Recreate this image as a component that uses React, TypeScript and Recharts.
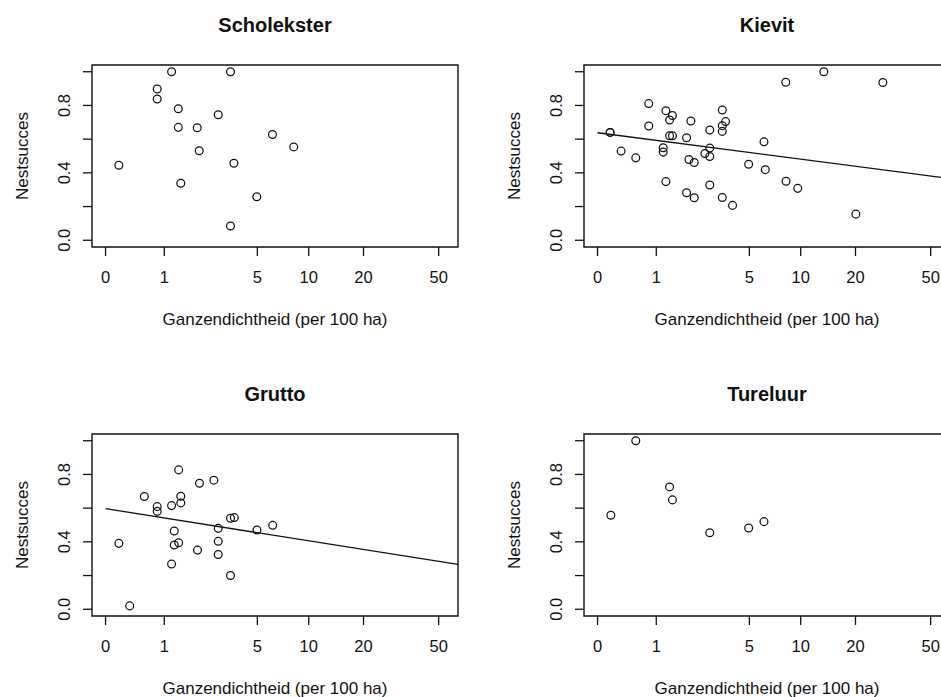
import React from 'react';
import { ScatterChart, Scatter, XAxis, YAxis, ReferenceArea } from 'recharts';

// Tick values (original units for x: goose density per 100 ha)
const xTickValues = [0, 1, 5, 10, 20, 50];
const yTickValues = [0, 0.2, 0.4, 0.6, 0.8, 1.0];
const yLabelValues = [0, 0.4, 0.8];

const panelTitles = ['Scholekster', 'Kievit', 'Grutto', 'Tureluur'];
const xAxisTitle = 'Ganzendichtheid (per 100 ha)';
const yAxisTitle = 'Nestsucces';

// Scholekster
const scholeksterDensity = [0.17, 0.84, 0.84, 1.18, 1.36, 1.36, 1.43, 1.95, 2.02, 2.78, 3.37, 3.37, 3.55, 4.96, 6.17, 8.22];
const scholeksterSuccess = [0.445, 0.898, 0.838, 1.0, 0.78, 0.67, 0.338, 0.668, 0.531, 0.745, 1.0, 0.085, 0.457, 0.258, 0.628, 0.554];

// Kievit
const kievitDensity = [0.16, 0.16, 0.32, 0.57, 0.83, 0.83, 1.17, 1.17, 1.24, 1.24, 1.34, 1.42, 1.34, 1.42, 1.86, 1.86, 1.94, 2.01, 2.13, 2.13, 2.55, 2.76, 2.76, 2.76, 2.76, 3.36, 3.36, 3.36, 3.53, 3.36, 3.92, 4.95, 6.13, 6.24, 8.22, 8.25, 9.62, 13.45, 20.1, 28.0];
const kievitSuccess = [0.64, 0.64, 0.529, 0.489, 0.811, 0.678, 0.549, 0.523, 0.769, 0.348, 0.714, 0.74, 0.62, 0.62, 0.608, 0.282, 0.479, 0.708, 0.461, 0.252, 0.515, 0.654, 0.547, 0.497, 0.328, 0.773, 0.68, 0.646, 0.704, 0.254, 0.207, 0.451, 0.584, 0.419, 0.938, 0.35, 0.308, 1.0, 0.155, 0.936];
const kievitFitDensity = [0, 63];
const kievitFitSuccess = [0.638, 0.366];

// Grutto
const gruttoDensity = [0.17, 0.33, 0.58, 0.84, 0.84, 1.18, 1.18, 1.25, 1.25, 1.37, 1.37, 1.43, 1.43, 1.96, 2.03, 2.59, 2.78, 2.78, 2.78, 3.37, 3.57, 3.37, 4.97, 6.19];
const gruttoSuccess = [0.391, 0.02, 0.669, 0.609, 0.581, 0.615, 0.268, 0.464, 0.381, 0.827, 0.395, 0.671, 0.631, 0.351, 0.748, 0.766, 0.48, 0.403, 0.325, 0.54, 0.544, 0.2, 0.47, 0.498];
const gruttoFitDensity = [0, 63];
const gruttoFitSuccess = [0.597, 0.266];

// Tureluur
const tureluurDensity = [0.17, 0.57, 1.34, 1.42, 2.76, 4.95, 6.13];
const tureluurSuccess = [0.558, 1.0, 0.726, 0.649, 0.454, 0.482, 0.52];

const FONT = '"Liberation Sans", Arial, Helvetica, sans-serif';
const INK = '#111';

// log(x + 1) transformed axis limits
const xDomain: [number, number] = [-0.16, 4.16];
const yDomain: [number, number] = [-0.04, 1.04];

const toRows = (dens: number[], succ: number[]) =>
  dens.map((d, i) => ({ lx: Math.log1p(d), y: succ[i] }));

const renderXTick = (props: any) => {
  const { x, y, payload, index } = props;
  const v = Math.round(Math.expm1(Number(payload.value)));
  return (
    <g key={`xt-${index}-${v}`}>
      <text x={x} y={y} textAnchor="middle" fontFamily={FONT} fontSize={16.5} fill={INK}>
        {String(v)}
      </text>
    </g>
  );
};

const renderYTick = (props: any) => {
  const { x, y, payload, index } = props;
  const v = Number(payload.value);
  if (!yLabelValues.some((l) => Math.abs(l - v) < 1e-9)) return <g key={`yt-${index}`} />;
  return (
    <text
      key={`yt-${index}`}
      x={x}
      y={y}
      transform={`rotate(-90, ${x}, ${y})`}
      textAnchor="middle"
      fontFamily={FONT}
      fontSize={16.5}
      fill={INK}
    >
      {v.toFixed(1)}
    </text>
  );
};

const OpenCircle = (props: any) => {
  const { cx, cy } = props;
  if (cx == null || cy == null) return <g />;
  return <circle cx={cx} cy={cy} r={3.9} fill="none" stroke={INK} strokeWidth={1.25} />;
};

const NoShape = () => <g />;

type PanelProps = {
  id: string;
  left: number;
  top: number;
  z: number;
  density: number[];
  success: number[];
  fitDensity?: number[];
  fitSuccess?: number[];
};

const Panel = ({ id, left, top, z, density, success, fitDensity, fitSuccess }: PanelProps) => {
  const rows = toRows(density, success);
  const fit = fitDensity && fitSuccess ? toRows(fitDensity, fitSuccess) : null;
  return (
    <div style={{ position: 'absolute', left, top, width: 470, height: 300, zIndex: z }}>
      <ScatterChart id={id} width={470} height={300} margin={{ top: 65, right: 12, bottom: 0, left: 0 }}>
        <XAxis
          type="number"
          dataKey="lx"
          domain={xDomain}
          allowDataOverflow
          ticks={xTickValues.map((t) => Math.log1p(t))}
          interval={0}
          minTickGap={0}
          axisLine={false}
          tickLine={{ stroke: INK, strokeWidth: 1.3 }}
          tickSize={9}
          tickMargin={27.3}
          height={53}
          tick={renderXTick}
        />
        <YAxis
          type="number"
          dataKey="y"
          domain={yDomain}
          allowDataOverflow
          ticks={yTickValues}
          interval={0}
          minTickGap={0}
          axisLine={false}
          tickLine={{ stroke: INK, strokeWidth: 1.3 }}
          tickSize={9}
          tickMargin={13}
          width={92}
          tick={renderYTick}
        />
        <ReferenceArea
          x1={xDomain[0]}
          x2={xDomain[1]}
          y1={yDomain[0]}
          y2={yDomain[1]}
          fill="none"
          fillOpacity={0}
          stroke={INK}
          strokeWidth={1.4}
          ifOverflow="visible"
        />
        {fit && (
          <Scatter
            data={fit}
            line={{ stroke: INK, strokeWidth: 1.3 }}
            lineType="joint"
            shape={<NoShape />}
            isAnimationActive={false}
          />
        )}
        <Scatter data={rows} shape={<OpenCircle />} isAnimationActive={false} />
      </ScatterChart>
    </div>
  );
};

const panelOffsets = [
  { left: 0, top: 0 },
  { left: 492, top: 0 },
  { left: 0, top: 369 },
  { left: 492, top: 369 },
];

export default function App() {
  return (
    <div
      style={{
        position: 'absolute',
        left: 0,
        top: 0,
        width: 941,
        height: 697,
        overflow: 'hidden',
        background: '#fff',
        fontFamily: FONT,
      }}
    >
      <svg
        width={941}
        height={697}
        style={{ position: 'absolute', left: 0, top: 0, pointerEvents: 'none', zIndex: 0 }}
      >
        {panelOffsets.map((o, i) => (
          <g key={i} transform={`translate(${o.left}, ${o.top})`} fontFamily={FONT} fill={INK}>
            <text x={275} y={32} textAnchor="middle" fontSize={20} fontWeight="bold">
              {panelTitles[i]}
            </text>
            <text x={275} y={325} textAnchor="middle" fontSize={17}>
              {xAxisTitle}
            </text>
            <text transform="translate(28.3, 156) rotate(-90)" textAnchor="middle" fontSize={17}>
              {yAxisTitle}
            </text>
          </g>
        ))}
      </svg>
      <Panel id="p1" z={1} {...panelOffsets[0]} density={scholeksterDensity} success={scholeksterSuccess} />
      <Panel
        id="p2"
        z={2}
        {...panelOffsets[1]}
        density={kievitDensity}
        success={kievitSuccess}
        fitDensity={kievitFitDensity}
        fitSuccess={kievitFitSuccess}
      />
      <Panel
        id="p3"
        z={3}
        {...panelOffsets[2]}
        density={gruttoDensity}
        success={gruttoSuccess}
        fitDensity={gruttoFitDensity}
        fitSuccess={gruttoFitSuccess}
      />
      <Panel id="p4" z={4} {...panelOffsets[3]} density={tureluurDensity} success={tureluurSuccess} />
    </div>
  );
}
